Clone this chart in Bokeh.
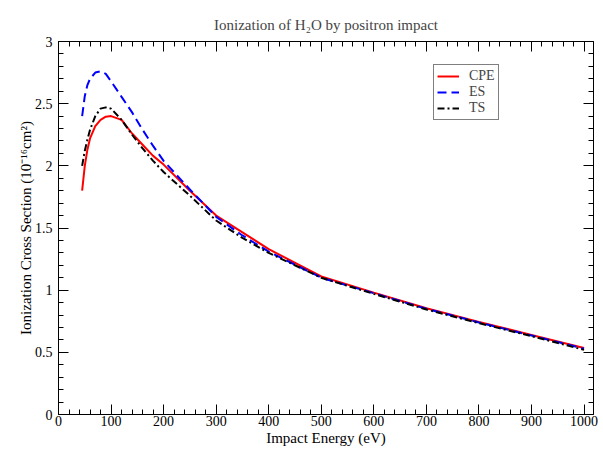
from bokeh.plotting import figure
from bokeh.models import (LinearAxis, Range1d, Legend, LegendItem,
                          SingleIntervalTicker, CustomJSTickFormatter)
from bokeh.embed import file_html
from bokeh.resources import INLINE

energy = [45, 50, 55, 60, 70, 80, 90, 100, 120, 140, 160, 180, 200, 250,
          300, 350, 400, 500, 600, 700, 800, 900, 1000]
cpe = [1.80, 2.00, 2.13, 2.22, 2.32, 2.37, 2.395, 2.40, 2.37, 2.26, 2.17,
       2.08, 2.01, 1.80, 1.60, 1.465, 1.33, 1.11, 0.98, 0.855, 0.745, 0.64, 0.535]
es = [2.40, 2.56, 2.65, 2.70, 2.75, 2.76, 2.74, 2.68, 2.555, 2.43, 2.29,
      2.16, 2.04, 1.81, 1.59, 1.44, 1.31, 1.10, 0.975, 0.85, 0.74, 0.635, 0.53]
ts = [2.00, 2.12, 2.21, 2.29, 2.40, 2.46, 2.47, 2.46, 2.37, 2.25, 2.14,
      2.04, 1.95, 1.76, 1.56, 1.42, 1.30, 1.10, 0.97, 0.845, 0.735, 0.63, 0.52]

title = "Ionization of H\u2082O by positron impact"
xlabel = "Impact Energy (eV)"
ylabel = "Ionization Cross Section (10\u207b\u00b9\u2076cm\u00b2)"
series_names = ["CPE", "ES", "TS"]

FONT = "Liberation Serif"

p = figure(width=603, height=450, x_range=Range1d(0, 1018), y_range=Range1d(0, 3),
           output_backend="svg", toolbar_location=None,
           min_border_left=58, min_border_right=10, min_border_top=41,
           min_border_bottom=36, title=title)
p.title.align = "center"
p.title.text_font = FONT
p.title.text_font_size = "15px"
p.title.text_font_style = "normal"
p.title.standoff = 17
p.grid.visible = False
p.outline_line_color = "black"
p.background_fill_color = "white"
p.border_fill_color = "white"


def style_axis(ax, show_labels):
    ax.major_tick_in = 10
    ax.major_tick_out = 0
    ax.minor_tick_in = 5
    ax.minor_tick_out = 0
    ax.axis_line_color = "black"
    ax.major_tick_line_color = "black"
    ax.minor_tick_line_color = "black"
    ax.major_label_text_font = FONT
    ax.major_label_text_font_size = "14px"
    ax.major_label_text_color = "black"
    ax.axis_label_text_font = FONT
    ax.axis_label_text_font_size = "15px"
    ax.axis_label_text_font_style = "normal"
    ax.axis_label_text_color = "black"
    if not show_labels:
        ax.formatter = CustomJSTickFormatter(code="return ''")
        ax.major_label_standoff = 0


p.xaxis.ticker = SingleIntervalTicker(interval=100, num_minor_ticks=5)
p.yaxis.ticker = SingleIntervalTicker(interval=0.5, num_minor_ticks=5)
p.xaxis.axis_label = xlabel
p.yaxis.axis_label = ylabel
for ax in p.xaxis + p.yaxis:
    style_axis(ax, True)
p.xaxis.major_label_standoff = 1
p.xaxis.axis_label_standoff = 1
p.yaxis.major_label_standoff = 6
p.yaxis.axis_label_standoff = -2

top = LinearAxis(ticker=SingleIntervalTicker(interval=100, num_minor_ticks=5))
right = LinearAxis(ticker=SingleIntervalTicker(interval=0.5, num_minor_ticks=5))
style_axis(top, False)
style_axis(right, False)
p.add_layout(top, "above")
p.add_layout(right, "right")

r1 = p.line(energy, cpe, line_color="#ff0000", line_width=2)
r2 = p.line(energy, es, line_color="#0000ff", line_width=2, line_dash="9 5")
r3 = p.line(energy, ts, line_color="black", line_width=2, line_dash="7 3 2 3")

legend = Legend(items=[LegendItem(label=series_names[0], renderers=[r1]),
                       LegendItem(label=series_names[1], renderers=[r2]),
                       LegendItem(label=series_names[2], renderers=[r3])],
                location=(375, 294))
legend.label_text_font = FONT
legend.label_text_font_size = "14px"
legend.glyph_width = 22
legend.glyph_height = 14
legend.label_height = 14
legend.label_standoff = 10
legend.spacing = 0
legend.padding = 3
legend.margin = 0
legend.border_line_color = "black"
legend.border_line_width = 1
legend.background_fill_alpha = 1
p.add_layout(legend, "center")

open("out.html", "w").write(file_html(p, INLINE))
